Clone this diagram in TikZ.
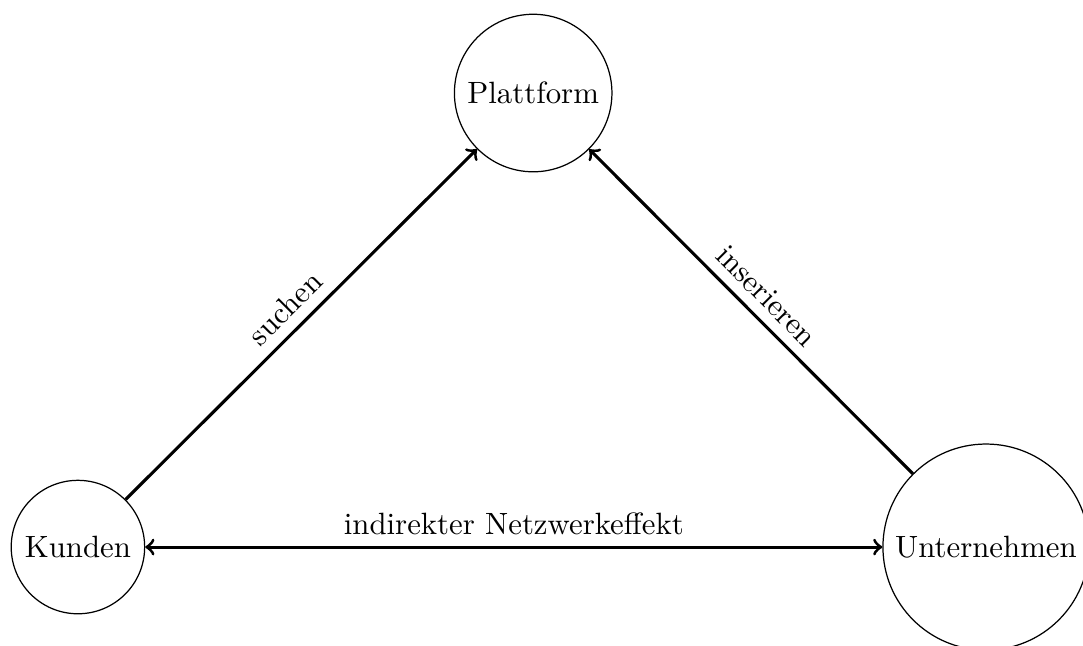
\documentclass[tikz,border=0pt]{standalone}
\usetikzlibrary{arrows}
\begin{document}
\begin{tikzpicture}[x=1pt,y=1pt,
  party/.style={circle,draw},
  link/.style={line width=1pt},
  edgelabel/.style={midway,above,sloped}]
  % canvas (right and bottom edges cut through the company circle)
  \useasboundingbox (0,0) rectangle (351.6,-209.7);
  \node[party] (platform) at (173.1,-30.2) {Plattform};
  \node[party] (kunden) at (25.3,-177.6) {Kunden};
  \node[party] (firmen) at (320.1,-177.6) {Unternehmen};
  \draw[link,->] (kunden) -- node[edgelabel] {suchen} (platform);
  \draw[link,->] (firmen) -- node[edgelabel] {inserieren} (platform);
  \draw[link,<->] (kunden) -- node[edgelabel] {indirekter Netzwerkeffekt} (firmen);
\end{tikzpicture}
\end{document}
